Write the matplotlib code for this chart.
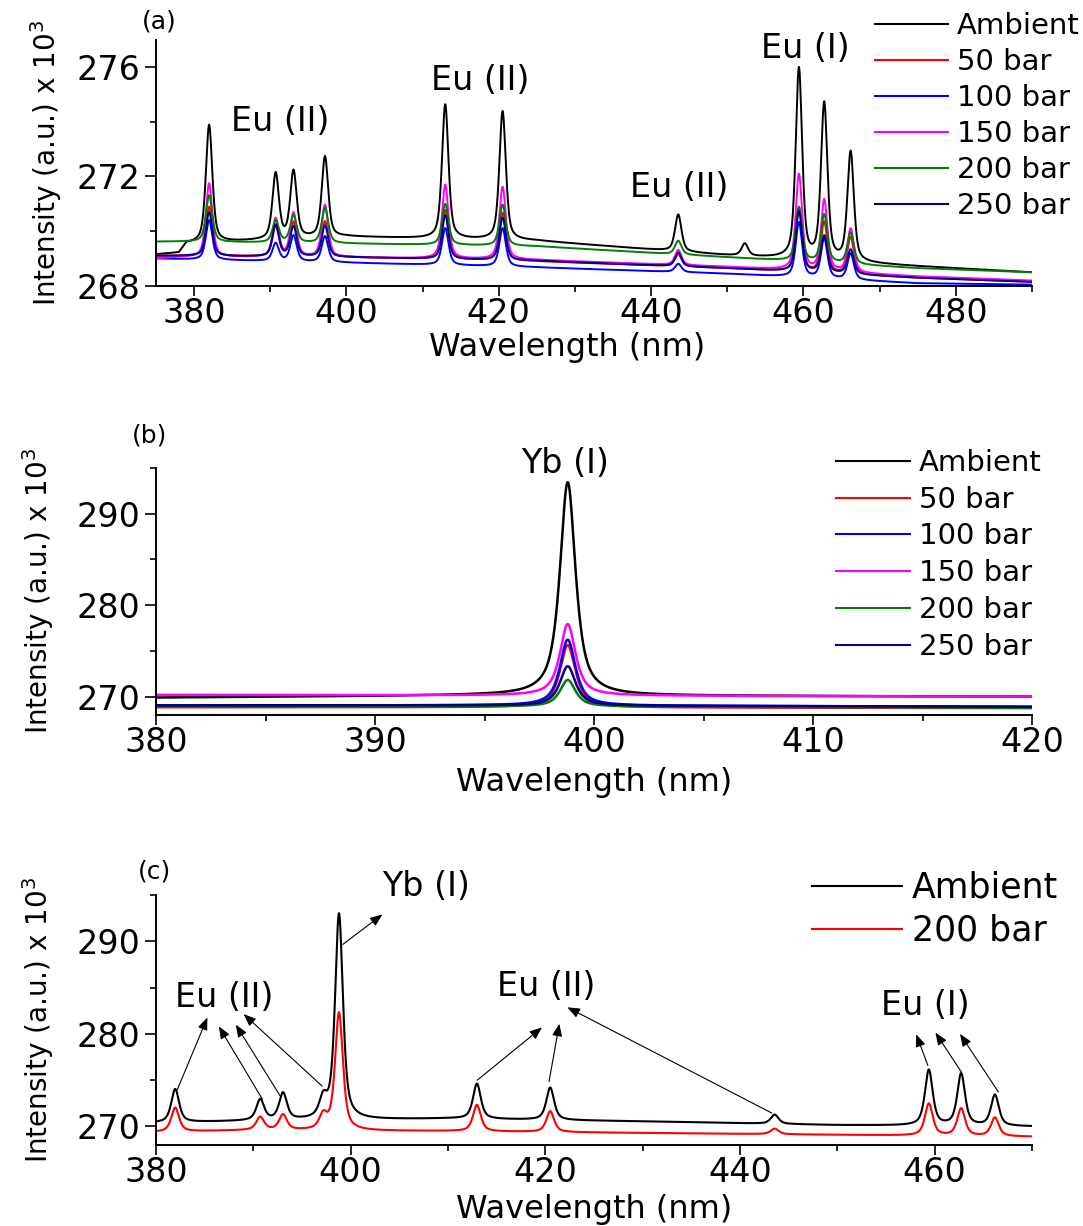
import numpy as np
import matplotlib
matplotlib.use("Agg")
import matplotlib.pyplot as plt
from matplotlib.lines import Line2D
from matplotlib.ticker import MultipleLocator

plt.rcParams['font.family'] = ['DejaVu Sans']
plt.rcParams['mathtext.default'] = 'regular'

W, H = 1083, 1226

# ---------------- data ----------------
labels_ab = ["Ambient", "50 bar", "100 bar", "150 bar", "200 bar", "250 bar"]
colors_ab = ["#000000", "#ff0000", "#0000ff", "#ff00ff", "#008000", "#000080"]

# (a) Eu emission lines (nm) and peak heights above the continuum (x10^3 a.u.)
a_lines = [381.97, 390.71, 393.05, 397.18, 412.97, 420.50, 443.56, 452.30, 459.40, 462.72, 466.19]
a_amp_ambient = [4.30, 2.40, 2.45, 2.95, 4.90, 4.70, 1.35, 0.45, 6.95, 5.70, 4.00]
a_amp_50 = [1.80, 1.10, 1.25, 1.30, 1.80, 1.75, 0.45, 0.00, 2.35, 1.85, 1.35]
a_amp_100 = [1.45, 0.65, 0.95, 0.95, 1.35, 1.40, 0.30, 0.00, 2.00, 1.45, 0.95]
a_amp_150 = [2.70, 1.40, 1.60, 1.90, 2.70, 2.65, 0.55, 0.00, 3.50, 2.60, 1.60]
a_amp_200 = [1.70, 0.80, 1.00, 1.30, 1.50, 1.50, 0.50, 0.00, 1.95, 1.75, 1.15]
a_amp_250 = [1.60, 1.15, 1.10, 1.15, 1.60, 1.55, 0.50, 0.00, 2.20, 1.35, 0.90]
# continuum level of each spectrum at a few wavelengths
a_base_nm = [375, 378, 379, 400, 425, 450, 475, 490]
a_base_ambient = [269.15, 269.20, 269.55, 269.80, 269.65, 269.12, 268.72, 268.50]
a_base_50 = [269.10, 269.10, 269.10, 269.05, 268.90, 268.65, 268.30, 268.15]
a_base_100 = [269.00, 268.98, 268.97, 268.85, 268.68, 268.45, 268.10, 268.05]
a_base_150 = [269.00, 269.05, 269.05, 269.05, 268.95, 268.70, 268.35, 268.20]
a_base_200 = [269.62, 269.62, 269.62, 269.55, 269.45, 269.05, 268.65, 268.50]
a_base_250 = [269.10, 269.10, 269.10, 269.05, 268.92, 268.65, 268.30, 268.15]

# (b) Yb I 398.8 nm line
b_line = 398.80
b_amp = [23.3, 6.8, 7.2, 7.8, 2.9, 4.3]
b_base_nm = [380, 395, 420]
b_base_ambient = [269.90, 270.15, 270.00]
b_base_50 = [268.85, 268.85, 268.75]
b_base_100 = [269.05, 269.05, 268.90]
b_base_150 = [270.20, 270.15, 270.00]
b_base_200 = [268.95, 268.95, 268.80]
b_base_250 = [269.05, 269.05, 268.90]

# (c) Eu + Yb lines, ambient vs 200 bar
labels_c = ["Ambient", "200 bar"]
colors_c = ["#000000", "#ff0000"]
c_lines = [381.97, 390.71, 393.05, 397.18, 398.80, 412.97, 420.50, 443.56, 459.40, 462.72, 466.19]
c_amp_ambient = [3.60, 2.25, 2.90, 2.00, 22.2, 3.80, 3.50, 1.00, 6.00, 5.60, 3.35]
c_amp_200 = [2.60, 1.40, 1.65, 1.50, 12.7, 2.85, 2.25, 0.60, 3.45, 2.95, 2.00]
c_base_nm = [380, 390, 410, 430, 450, 470]
c_base_ambient = [270.40, 270.60, 270.85, 270.55, 270.15, 270.00]
c_base_200 = [269.40, 269.60, 269.50, 269.30, 269.10, 268.90]


def spectrum(wl, base_nm, base_val, centers, amps, fwhm=0.8, eta=0.6):
    """Continuum plus pseudo-Voigt emission lines."""
    y = np.interp(wl, base_nm, base_val).astype(float)
    for c, a in zip(centers, amps):
        d = (wl - c) / (fwhm / 2.0)
        y += a * (eta / (1.0 + d ** 2) + (1.0 - eta) * np.exp(-np.log(2.0) * d ** 2))
    return y


def style_axes(ax, xlim, ylim, xmaj, xmin, ymaj, ymin, ylabel_x):
    ax.set_xlim(*xlim)
    ax.set_ylim(*ylim)
    for s in ("top", "right"):
        ax.spines[s].set_visible(False)
    for s in ("left", "bottom"):
        ax.spines[s].set_linewidth(1.4)
    ax.xaxis.set_major_locator(MultipleLocator(xmaj))
    ax.xaxis.set_minor_locator(MultipleLocator(xmin))
    ax.yaxis.set_major_locator(MultipleLocator(ymaj))
    ax.yaxis.set_minor_locator(MultipleLocator(ymin))
    ax.tick_params(which="both", direction="out", width=1.2, labelsize=24)
    ax.tick_params(axis="x", which="major", length=7, pad=1)
    ax.tick_params(axis="y", which="major", length=8, pad=3)
    ax.tick_params(which="minor", length=4)
    ax.set_ylabel("Intensity (a.u.) x 10$^3$", fontsize=20)
    ax.yaxis.set_label_coords((ylabel_x - 156) / 876, 0.5)
    ax.yaxis.label.set_va("center")


def fig_legend(handles, labels, x_px, top_px, fs, hl, pad, spacing):
    fig.legend(handles, labels, loc="upper left",
               bbox_to_anchor=(x_px / W, 1 - top_px / H), bbox_transform=fig.transFigure,
               frameon=False, fontsize=fs, handlelength=hl, handletextpad=pad,
               labelspacing=spacing, borderpad=0, borderaxespad=0)


fig = plt.figure(figsize=(W / 100, H / 100), dpi=100)

# ---------------- panel (a) ----------------
ax_a = fig.add_axes([156 / W, 1 - 286 / H, 876 / W, 246.4 / H])
wl_a = np.arange(375, 490.001, 0.02)
a_amps = [a_amp_ambient, a_amp_50, a_amp_100, a_amp_150, a_amp_200, a_amp_250]
a_bases = [a_base_ambient, a_base_50, a_base_100, a_base_150, a_base_200, a_base_250]
for lab, col, amp, base in zip(labels_ab, colors_ab, a_amps, a_bases):
    ax_a.plot(wl_a, spectrum(wl_a, a_base_nm, base, a_lines, amp, 1.0, 0.55),
              color=col, lw=1.4, label=lab)
style_axes(ax_a, (375, 490), (268, 277), 20, 10, 4, 2, 46)
ax_a.set_xlabel("Wavelength (nm)", fontsize=23)
ax_a.xaxis.set_label_coords(0.469, -0.187)
for txt, x, y in [("Eu (II)", 391.3, 274.0), ("Eu (II)", 417.5, 275.5),
                  ("Eu (II)", 443.7, 271.6), ("Eu (I)", 460.2, 276.67)]:
    ax_a.text(x, y, txt, fontsize=24, ha="center", va="center")
fig.text(159 / W, 1 - 21 / H, "(a)", fontsize=18, ha="center", va="center")
fig_legend([Line2D([], [], color=c, lw=1.5) for c in colors_ab], labels_ab,
           875, 12.3, 21, 2.5, 0.31, 0.275)

# ---------------- panel (b) ----------------
ax_b = fig.add_axes([156 / W, 1 - 715 / H, 876 / W, 247.2 / H])
wl_b = np.arange(380, 420.001, 0.01)
b_bases = [b_base_ambient, b_base_50, b_base_100, b_base_150, b_base_200, b_base_250]
for lab, col, amp, base in zip(labels_ab, colors_ab, b_amp, b_bases):
    ax_b.plot(wl_b, spectrum(wl_b, b_base_nm, base, [b_line], [amp], 0.85, 0.8),
              color=col, lw=1.8, label=lab)
style_axes(ax_b, (380, 420), (268, 295), 10, 5, 10, 5, 38)
ax_b.set_xlabel("Wavelength (nm)", fontsize=23)
ax_b.xaxis.set_label_coords(0.5, -0.21)
ax_b.text(398.7, 295.47, "Yb (I)", fontsize=24, ha="center", va="center")
fig.text(150 / W, 1 - 436 / H, "(b)", fontsize=18, ha="center", va="center")
fig_legend([Line2D([], [], color=c, lw=1.5) for c in colors_ab], labels_ab,
           836, 449, 21, 2.54, 0.31, 0.30)

# ---------------- panel (c) ----------------
ax_c = fig.add_axes([156 / W, 1 - 1145 / H, 876 / W, 250 / H])
wl_c = np.arange(380, 470.001, 0.02)
for lab, col, amp, base in zip(labels_c, colors_c, [c_amp_ambient, c_amp_200],
                               [c_base_ambient, c_base_200]):
    ax_c.plot(wl_c, spectrum(wl_c, c_base_nm, base, c_lines, amp, 0.95, 0.65),
              color=col, lw=1.5, label=lab)
style_axes(ax_c, (380, 470), (268, 295), 20, 10, 10, 5, 38)
ax_c.set_xlabel("Wavelength (nm)", fontsize=23)
ax_c.xaxis.set_label_coords(0.5, -0.195)

ax_c.text(407.7, 295.9, "Yb (I)", fontsize=24, ha="center", va="center")
ax_c.text(386.97, 283.98, "Eu (II)", fontsize=24, ha="center", va="center")
ax_c.text(420.07, 285.07, "Eu (II)", fontsize=24, ha="center", va="center")
ax_c.text(459.07, 283.1, "Eu (I)", fontsize=24, ha="center", va="center")

arrow_tails = [(399.19, 289.66), (382.19, 273.98), (390.94, 272.93), (392.80, 273.23),
               (397.07, 274.36), (413.00, 275.00), (420.38, 274.85), (443.27, 271.45),
               (459.30, 276.60), (462.75, 275.87), (466.55, 273.72)]
arrow_heads = [(403.26, 292.90), (385.28, 281.77), (386.45, 280.82), (388.20, 281.00),
               (389.00, 282.14), (419.66, 280.70), (421.44, 281.10), (422.26, 282.87),
               (458.10, 279.96), (460.08, 280.14), (462.60, 280.00)]
for tail, head in zip(arrow_tails, arrow_heads):
    ax_c.annotate("", xy=head, xytext=tail,
                  arrowprops=dict(arrowstyle="-|>,head_length=0.75,head_width=0.3",
                                  mutation_scale=10, color="black", lw=0.8,
                                  shrinkA=0, shrinkB=0))
fig.text(155 / W, 1 - 871 / H, "(c)", fontsize=18, ha="center", va="center")
fig_legend([Line2D([], [], color=c, lw=1.5) for c in colors_c], labels_c,
           811.8, 871, 25, 2.6, 0.29, 0.25)

fig.savefig("out.png", dpi=100)
